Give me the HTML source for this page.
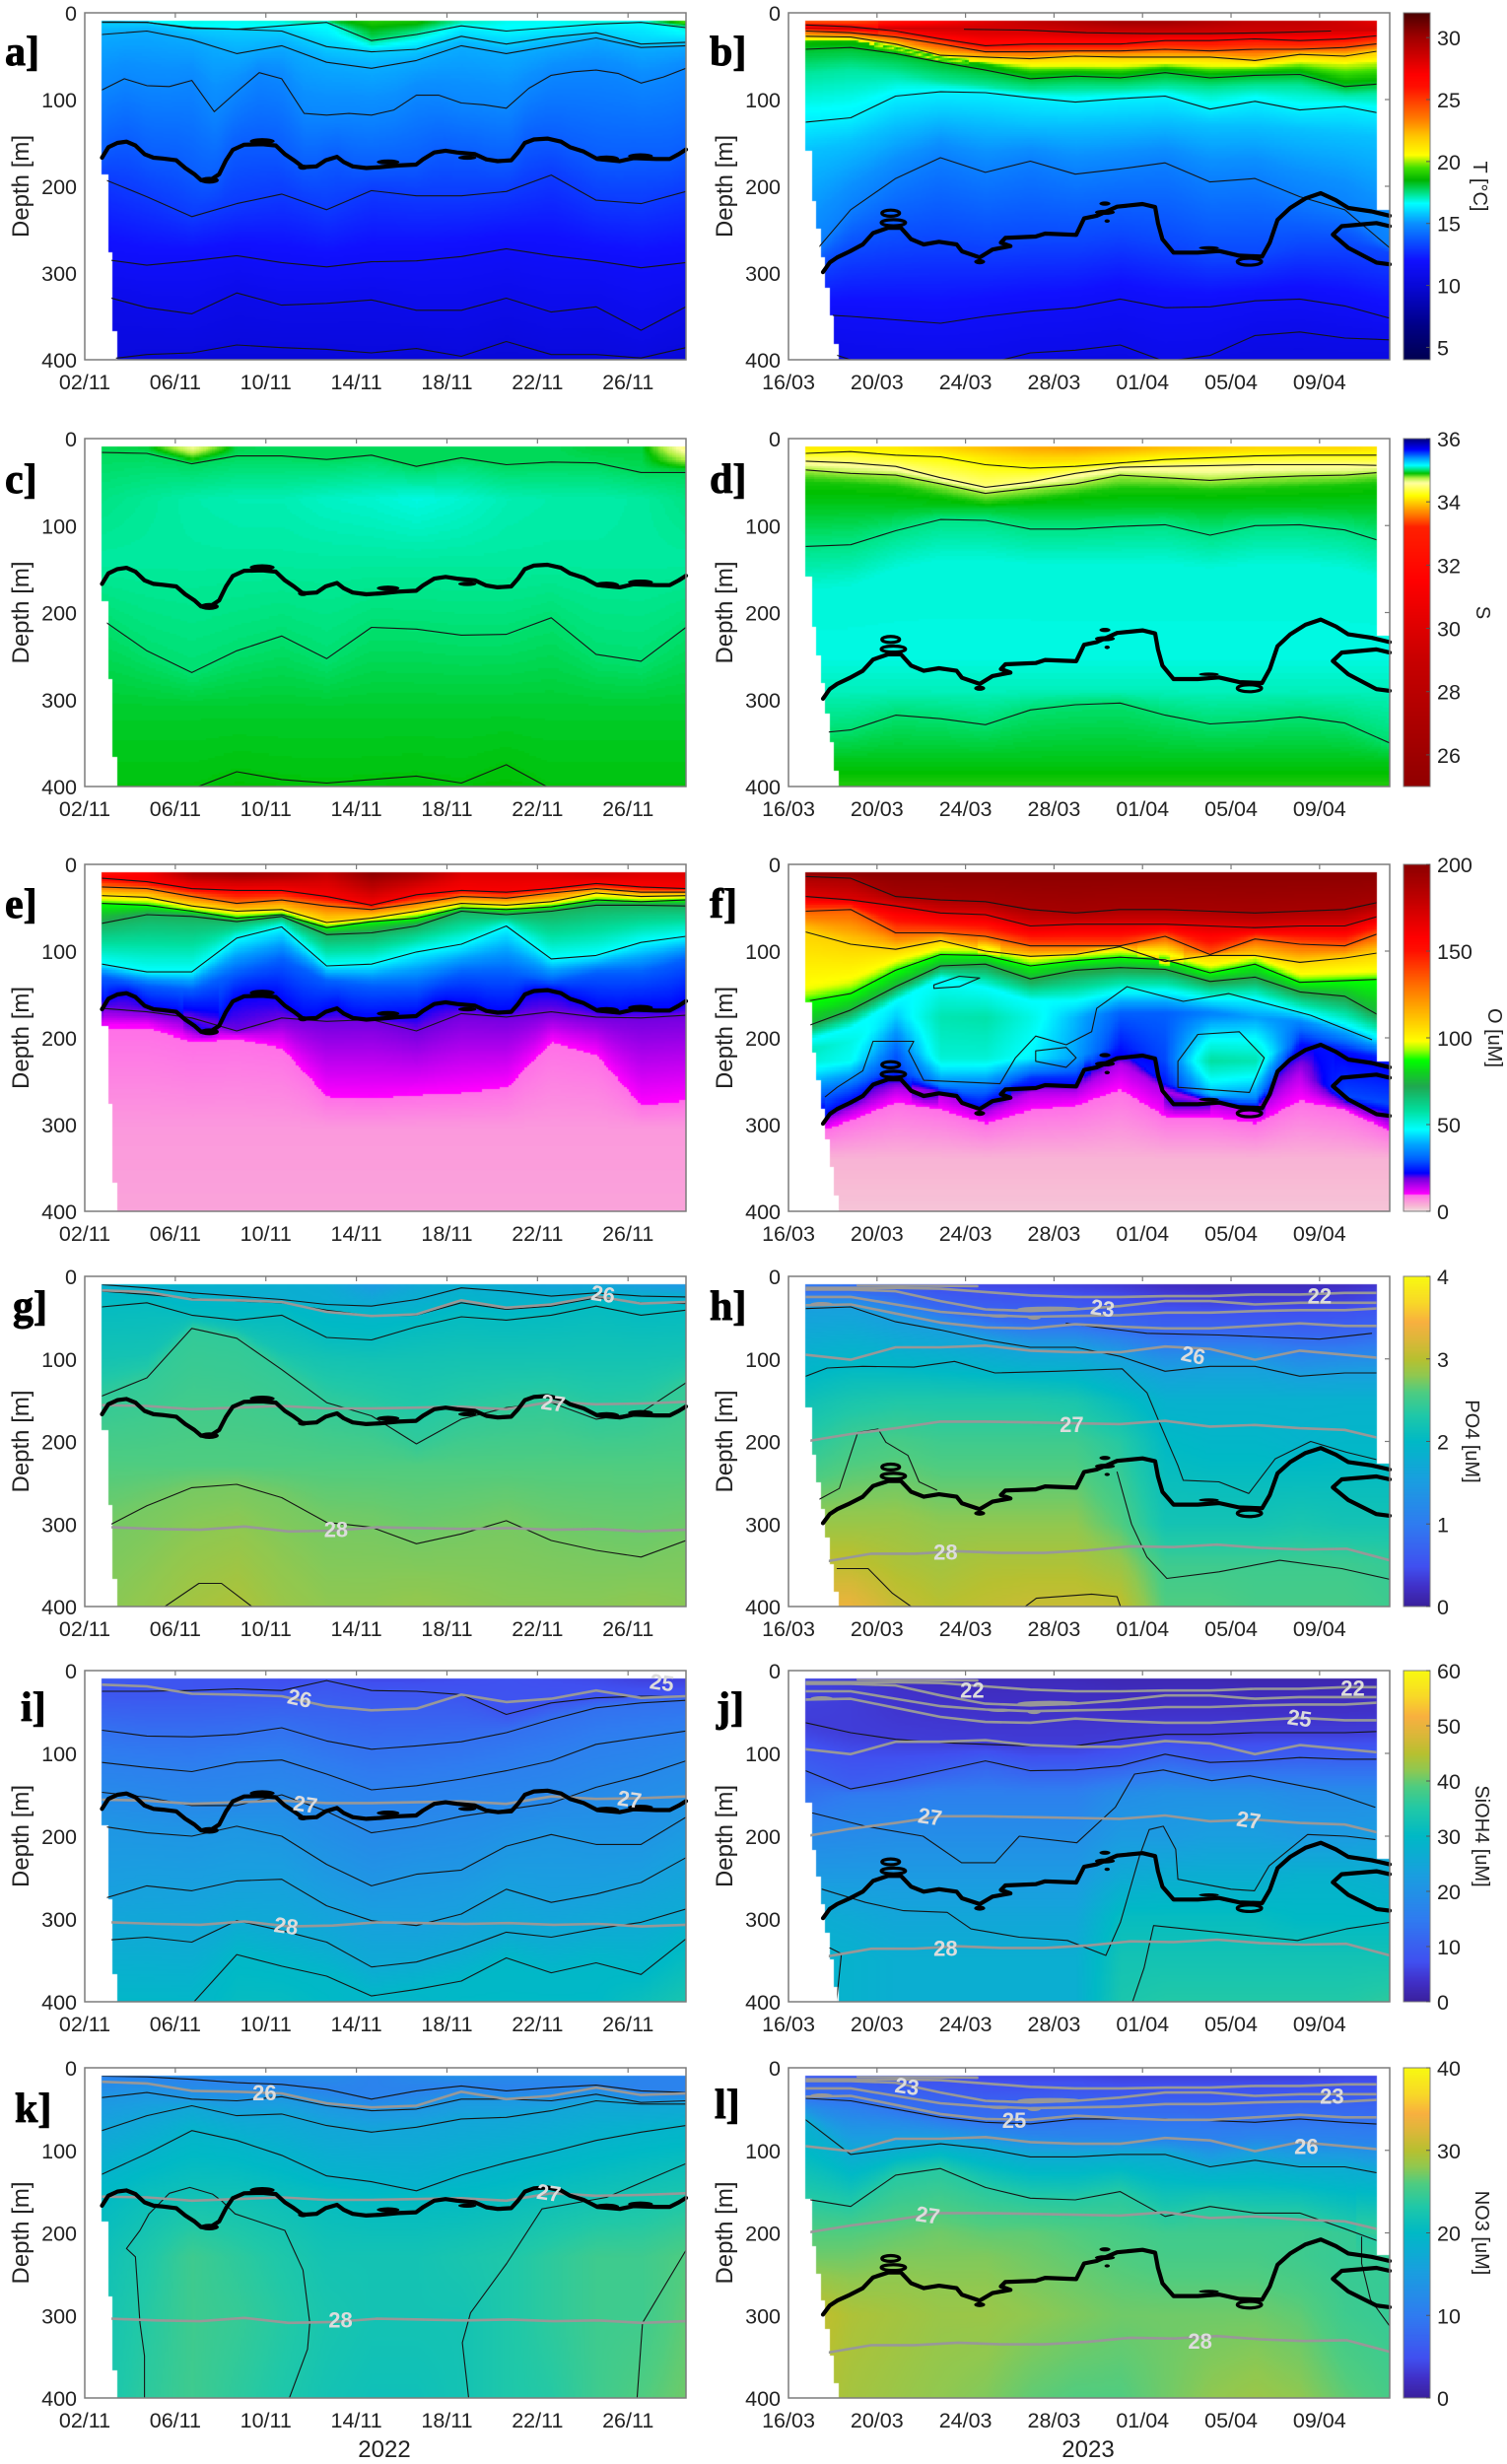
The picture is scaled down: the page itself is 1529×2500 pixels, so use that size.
<!DOCTYPE html>
<html lang="en">
<head>
<meta charset="utf-8">
<title>Ocean depth-time sections</title>
<style>
html,body{margin:0;padding:0;background:#fff}
#figure{position:relative;width:1529px;height:2500px;overflow:hidden;background:#fff}
#figure canvas{position:absolute;z-index:0}
#overlay{position:absolute;left:0;top:0;z-index:1}
text{font-family:"Liberation Sans",sans-serif;fill:#222}
</style>
</head>
<body>
<div id="figure">
<svg id="overlay" width="1529" height="2500"></svg>
</div>
<script>
/* ---------- axis data ---------- */
const depthTicks=[0,100,200,300,400];
const dayTicks=[0,4,8,12,16,20,24];
const dateLabelsL=['02/11','06/11','10/11','14/11','18/11','22/11','26/11'];
const dateLabelsR=['16/03','20/03','24/03','28/03','01/04','05/04','09/04'];
const tempTicks=[5,10,15,20,25,30];
const salTicks=[26,28,30,32,34,36];
const oxyTicks=[0,50,100,150,200];
const po4Ticks=[0,1,2,3,4];
const sioTicks=[0,10,20,30,40,50,60];
const no3Ticks=[0,10,20,30,40];

/* ---------- thick isopycnal (day, depth) ---------- */
const thickDaysL=[.76,1.04,1.44,1.84,2.24,2.64,3.04,3.44,4.04,4.44,4.84,5.14,5.54,5.94,6.24,6.54,7.04,7.84,8.44,8.84,9.24,9.64,10.24,10.64,11.14,11.44,11.84,12.44,13.04,13.84,14.64,14.94,15.44,15.94,16.44,17.24,17.74,18.24,18.84,19.14,19.44,19.84,20.44,21.04,21.44,22.04,22.64,23.64,24.24,25.24,25.84,26.24,26.56];
const thickDepthL=[167,155,150,148.5,153,163,167,168,170,179,186,193,193,186,170,158,152,151.5,153,163,170,178,177,170,166,172,177,179,178,176,175,169,161,159,161,163,169,171,170,161,150,146,145,148.5,155,160,168.5,171,167.5,168.5,168.5,163,157.6];
const thickDaysR=[1.56,1.86,2.2,2.78,3.36,3.82,4.5,5.08,5.54,6.11,6.8,7.6,7.84,8.64,9.22,10.03,9.6,9.8,11.17,11.6,13,13.36,13.93,14.85,16,16.57,16.7,16.9,17.4,18.5,19.45,20.37,21.4,21.75,22.1,22.67,23.36,24.05,24.74,25.3,26.35,27.17];
const thickDepthR=[299,288,282,275,267,254,248,248,261,267,264,267,275,282,273,269,265,259.5,258,254.5,256,237,234,223.5,220.5,224,242.5,261,276.5,276.5,274.6,280,281,265,238.6,225,214,208,216,225,229,234];
const thickLoopDaysR=[27.17,26.57,25,24.6,25.3,26.57,27.17];
const thickLoopDepthR=[246,242.4,246,255.7,271,288,290];
const thickBlobsL=[[7.84,148,.55,3.5],[5.5,193,.42,4],[13.4,172,.5,3],[16.9,167,.4,2.5],[23.05,168,.55,3.5],[24.55,165,.55,3],[9.64,178,.22,3]];
const thickBlobsR=[[8.64,287,.25,3],[14.3,220,.25,2.5],[14.3,230,.45,3],[14.4,240,.12,2],[19,271,.45,2]];
const thickRingsR=[[4.62,231,.4,3.5],[4.74,242,.55,3.5],[20.83,287,.55,4]];

/* ---------- grey density contours ---------- */
const grayL26=[17,19,28,29,31,43,48,46,29,38,34,24,33,31];
const grayL27=[156,157,161,159,157,160,160,159,158,161,152,155,154,152];
const grayL28=[304,306,307,303,309,308,304,305,306,305,307,306,309,307];
const grayR22=[14,14,14,15,19,23,25,25,24,24,22,22,20,20];
const grayR23=[16,16,18,30,40,42,40,36,30,30,34,32,32,32];
const grayR24=[25,25,34,43,47,49,48,47,44,44,42,41,41,38];
const grayR25=[35,34,45,56,62,63,58,61,63,63,60,57,60,60];
const grayR26=[95,101,86,86,84,90,92,92,85,88,101,90,95,100];
const grayR27=[200,191,184,176,176,177,178,179,175,182,180,184,186,199];
const grayR28=[345,336,336,333,335,335,332,327,328,325,329,331,330,344];
const grayBlobsR=[[11.8,39.5,1.45,3],[9.56,48,.55,2],[11.1,50,.3,2.5],[1.5,33.5,.5,2.5]];

/* ---------- panel a: temperature ---------- */
const aSurface=[16.6,16.6,16.8,16.7,16.9,18.2,19,18.8,17.2,16.7,16.7,17,17.2,20];
const aLine1Value=[16.4,16.4,16.5,16.5,16.5,16.8,17.6,17.2,16.6,16.5,16.5,16.5,16.5,17];
const aLine1=[10,11,17,19,15,11,32,25,15,21,17,13,11,17];
const aLine2=[11,11,18,19,21,39,45,42,27,36,28,23,36,34];
const aLine3=[25,21,31,47,38,57,64,55,38,47,38,29,40,38];
const aLine4=[89,76,84,85,78,114,91,69,76,116,118,116,118,112,95,95,104,106,110,87,72,68,66,70,81,74,64];
const aLine5=[191,212,235,220,209,227,205,211,211,206,187,216,220,206];
const aLine6=[284,291,286,280,288,293,287,286,281,272,280,286,294,288];
const aLine7=[326,340,347,323,337,335,331,343,343,329,345,339,366,339];
const aLine8=[400,394,392,383,386,388,392,387,396,379,394,394,398,386];
/* ---------- panel b: temperature ---------- */
const bSurface=[24,24.5,26,27,28,29,29.5,30,30,29.5,29,29,28.5,27.5];
const bLine1=[19,20,23,24,24,23,21];
const bLine2=[14,16,21,30,38,36,36,36,32,32,30,32,30,25];
const bLine3=[21,23,28,36,45,45,44,44,42,44,42,42,40,34];
const bLine4=[27,28,36,49,51,53,50,51,51,51,55,48,50,42];
const bYellow=[32,32,42,55,58,62,62,62,60,62,62,58,60,56];
const bGreen=[34,33,41,52,60,70,68,70,64,70,68,66,78,74];
const bLine5=[42,40,47,57,66,76,73,75,69,75,72,71,85,81];
const bTeal=[70,65,70,80,85,90,88,88,85,88,85,85,95,92];
const bLine6=[126,121,96,91,92,98,103,99,96,111,102,112,108,118];
const bBlue=[160,150,130,120,125,130,130,128,125,130,130,135,140,145];
const bLine7=[288,227,191,167,184,171,186,180,173,195,191,212,227,271];
const bDeep=[300,275,265,260,265,262,262,255,265,280,280,268,268,276];
const bLine8=[347,350,354,358,350,344,340,330,340,339,332,330,338,352];
const bLine9=[383,400,405,405,405,392,389,383,402,395,372,368,375,377];
/* ---------- panel c: salinity ---------- */
const cSurface=[34.97,34.95,34.6,34.97,34.98,34.98,34.98,34.98,34.98,34.98,34.98,34.95,34.95,34.5];
const cLine1=[16,17,29,20,20,24,19,32,22,30,27,28,39,39];
const cMid=[35.02,35.04,35.06,35.07,35.07,35.09,35.1,35.12,35.1,35.07,35.06,35.06,35.05,35.02];
const cLine2=[208,244,269,244,227,253,217,219,226,225,206,248,256,217];
const cLine3=[403,403,403,383,392,396,392,388,396,375,403,403,403,403];
/* ---------- panel d: salinity ---------- */
const dSurface=[34.1,34.1,34.1,34,33.9,33.8,33.75,33.8,33.9,33.95,34,34,34,34.1];
const dLine1=[17,15,19,21,30,34,32,28,24,22,20,19,19,19];
const dLine2=[26,28,32,45,56,50,40,33,32,31,30,30,30,31];
const dLine3=[36,40,42,52,63,57,52,42,45,48,45,43,42,38];
const dGreen=[50,52,56,66,75,70,64,58,58,60,58,56,54,50];
const dLine4=[124,122,106,93,94,104,104,101,99,111,100,99,105,121];
const dCyan=[175,170,150,140,140,145,145,145,145,150,145,145,150,165];
const dLine5=[340,335,318,322,329,312,306,304,318,328,325,320,327,350];
/* ---------- panel e: oxygen ---------- */
const eSurface=[150,160,190,195,190,180,200,190,170,170,170,175,170,170];
const eLine1=[16,20,28,30,30,37,47,35,30,32,28,22,26,28];
const eLine2=[26,28,37,45,41,48,52,45,37,39,33,28,32,32];
const eLine3=[36,38,48,54,52,67,62,54,45,47,43,33,37,36];
const eLine4=[45,47,54,62,58,73,66,62,50,52,49,41,43,41];
const eLine5=[68,58,60,66,60,81,79,71,54,58,54,47,47,48];
const eLine6=[115,124,124,85,72,117,115,101,92,71,109,105,90,83];
const eBlue=[130,140,145,125,110,135,140,140,125,125,135,125,125,110];
const eLine7=[166,170,177,192,177,181,179,192,172,176,170,176,177,174];
const eBound=[187,187,204,200,211,268,270,266,263,257,204,219,278,272];
/* ---------- panel f: oxygen ---------- */
const fLine1=[14,16,37,41,43,52,56,52,52,54,56,54,52,41];
const fLine2=[37,41,48,56,58,71,69,69,69,71,73,71,71,56];
const fLine3=[54,52,79,79,83,94,94,94,83,104,86,92,94,75];
const fLine4=[78,92,98,88,100,106,104,95,112,105,105,113,108,100];
const fYellow=[145,135,112,98,98,110,105,100,104,118,108,128,126,124];
const fLine5=[158,149,122,104,105,117,111,107,110,125,115,136,134,132];
const fLine6=[187,168,141,117,115,132,122,119,121,135,130,147,152,181];
const fCyan=[204,189,158,132,143,158,158,147,147,155,155,170,185,204];
const fMidDepth=[215,205,177,177,177,177,177,172,172,172,177,182,192,212];
const fMidValue=[55,50,42,56,57,50,40,30,30,34,38,35,40,42];
const fLowDepth=[227,227,215,223,223,223,223,208,227,227,227,204,213,219];
const fLowValue=[52,48,30,52,52,46,38,24,28,58,56,25,26,30];
const fDeepDepth=[272,257,238,255,263,247,246,213,253,266,270,208,217,225];
const fDeepValue=[30,30,26,35,30,26,26,23,24,40,35,23,23,25];
const fPurpleDepth=[305,284,259,265,287,262,262,230,262,276,285,240,268,276];
const fPurpleValue=[15,15,15,15,15,15,15,15,15,15,15,15,28,28];
const fBound=[314,295,274,283,299,283,278,259,291,291,299,272,283,308];
const fExtra1=[[1.66,268],[2.2,257],[3.36,238],[3.82,204],[5.66,204],[5.43,215],[6.11,249],[9.56,253],[10.26,223],[11.17,198],[12.55,208],[13.7,193],[13.93,166],[15.3,141],[17.84,158],[19.9,149],[23.6,174],[26.35,202]];
const fExtra2=[[17.6,227],[18.5,196],[20.37,193],[21.5,223],[20.83,263],[17.6,257],[17.6,227]];
const fExtra3=[[6.57,139],[7.72,129],[8.64,131],[7.72,141],[6.57,143],[6.57,139]];
const fExtra4=[[11.17,215],[12.55,211],[13,223],[12.55,234],[11.17,227],[11.17,215]];
/* ---------- panel g: phosphate ---------- */
const gSurface=[2,1.95,1.9,1.85,1.8,1.75,1.45,1.7,1.8,1.75,1.6,1.65,1.5,1.4];
const gLine1=[10,14,20,24,28,34,36,28,14,18,24,20,24,25];
const gLine2=[18,22,27,30,32,41,48,47,32,40,36,26,32,33];
const gLine3=[37,32,47,53,47,74,77,61,49,53,47,36,47,41];
const gMid=[100,95,55,65,90,100,105,105,100,100,100,100,100,95];
const gLine4=[145,123,63,75,113,153,169,203,173,159,153,173,165,129];
const gLine5=[306,278,256,252,268,298,304,324,312,296,320,332,340,320];
const gBottom=[2.77,2.82,2.9,2.95,2.85,2.8,2.8,2.82,2.8,2.78,2.78,2.78,2.8,2.78];
const gExtra1=[[3.54,400],[5.04,372],[6.04,372],[7.38,400]];
/* ---------- panel h: phosphate ---------- */
const hSurface=[1,.9,.6,.45,.4,.38,.35,.3,.2,.15,.15,.15,.2,.3];
const hBlue=[18,18,25,41,51,57,57,63,71,71,72,76,76,69];
const hLine1=[39,37,55,65,77,86,86,97,115,109,109,121,117,117];
const h150=[2.15,2.25,2.3,2.3,2.3,2.3,2.25,2.05,1.85,1.85,1.85,1.85,1.85,1.85];
const h200=[2.35,2.5,2.55,2.5,2.5,2.5,2.5,2.35,2,1.95,1.95,1.9,1.95,1.95];
const h300=[2.85,2.85,2.85,2.8,2.8,2.8,2.8,2.6,2.2,2.2,2.2,2.25,2.2,2.2];
const h350=[3.05,3.05,2.95,2.9,2.95,2.95,2.95,2.85,2.5,2.5,2.5,2.5,2.5,2.45];
const h400=[3.35,3.35,3.1,3,3.05,3.1,3.1,3.05,2.6,2.6,2.55,2.55,2.55,2.5];
const hExtra1=[[.78,121],[1.75,111],[3.36,109],[5.66,110],[7.5,103],[9.33,117],[12.1,115],[15.08,112],[16.2,141],[16.7,173],[17.6,229],[17.84,247],[19.45,249],[20.8,263],[22,221],[23.6,200],[25.2,213],[26.57,222]];
const hExtra2=[[1.4,270],[2.3,257],[3.13,189],[4.05,185],[4.4,201],[5.4,217],[5.9,249],[6.7,259]];
const hExtra3=[[14.85,237],[15.5,300],[16.2,340],[17.1,366],[19.45,358],[22.2,344],[25,354],[27.17,367]];
const hExtra4=[[2.2,354],[3.6,354],[4.7,384],[5.54,400]];
const hExtra5=[[10.7,400],[11.2,390],[13.7,385],[14.85,388],[15,400]];
const hExtra6=[[12.55,57],[16.2,69],[19.45,71],[24,76],[26.35,69]];
/* ---------- panel i: silicate ---------- */
const iSurface=[9,8.5,8,7.5,7,7,6.5,6.5,7,7.5,7,6.5,5.5,5.5];
const iLine1=[25,25,24,22,24,12,24,25,29,53,39,33,31,31];
const iLine2=[72,79,80,77,69,85,95,91,86,75,59,45,39,36];
const iLine3=[111,117,122,111,108,125,144,139,131,121,109,89,81,73];
const iLine4=[147,153,163,163,150,170,196,188,176,168,160,141,127,109];
const iLine5=[188,196,200,188,200,234,260,246,241,212,198,210,210,177];
const iLine6=[276,260,266,254,252,284,302,308,294,264,280,270,256,226];
const iLine7=[326,322,328,302,314,328,358,352,336,316,322,312,304,288];
const iLine8=[403,403,403,343,357,369,393,385,375,347,365,353,367,324];
const iBottom=[26.8,27.5,29,31,31,30,29,29,30,30,30,30,32,34];
/* ---------- panel j: silicate ---------- */
const jSurface=[6,5,3.5,3,2.5,2.5,2.5,2,2,2,1.5,1.5,1.5,2];
const jLine1=[63,75,83,87,89,91,91,83,77,77,75,75,75,73];
const jLine2=[121,143,133,121,109,121,120,115,101,111,109,105,107,107];
const j150=[13,15,15,16,16,16,16,19,20,20,20,19,19,19];
const j200=[18,18.5,19,19,19,19,19,22,22,23,23,22,22,23];
const j250=[22,22,22,22,22,22,22,26,27,27,27,28,28,27];
const j300=[27,26,25,25,25,25,25,31,31,31,31,30,30,30];
const j350=[28,28,27,27,27,27,27,33,33,33,33,33,33,33];
const j400=[29,28,27,27,27,27,27,34,35,35,35,35,35,36];
const jExtra1=[[1.09,172],[3.48,188],[6.08,200],[7.82,232],[9.34,232],[10.43,200],[13.03,208],[14.77,165],[15.64,125],[16.94,120],[19.12,133],[20.85,127],[24.3,145],[26.5,165]];
const jExtra2=[[1.52,264],[3.48,280],[5.2,290],[7.17,292],[8.25,312],[10.43,322],[12.6,326],[14.34,344],[15,304],[15.86,224],[16.3,192],[16.94,188],[17.5,216],[17.6,252],[20,264],[21.06,266],[21.72,236],[23.46,198],[25.2,200],[26.5,204]];
const jExtra3=[[15.55,400],[16.07,359],[16.5,308],[20.85,320],[23,326],[25.2,312],[27.17,304]];
const jExtra4=[[2.17,400],[2.39,342],[1.87,335]];
/* ---------- panel k: nitrate ---------- */
const kSurface=[14,14,13,13,12.5,12.5,11,12,13,12,12,13,11,11];
const kLine1=[10,11,14,18,20,26,38,28,22,28,24,21,28,30];
const kLine2=[36,30,38,40,35,46,52,50,38,38,40,32,42,40];
const kLine3=[76,58,46,58,56,70,78,72,62,60,52,40,44,44];
const kLine4=[129,104,76,88,106,131,138,149,130,115,102,88,78,70];
const k150=[20,21,21.5,21.5,21,20.5,20,20,20,20.5,21,21.5,22,22.5];
const k230=[21.5,23,25,24,23,22,22,22,22.5,23,24,25,25,26];
const k300=[22,23.5,25,24.5,23.5,22.5,22,22,22,23,24,25,25,26.5];
const k400=[22.5,24,25,24,23,22,21.5,21.5,22,23,23.5,25,26,27];
const kExtra1=[[2.64,400],[2.64,349],[2.44,309],[2.34,269],[2.24,229],[1.84,219],[2.44,197],[2.84,177],[3.74,152],[4.64,145],[5.64,153],[6.04,161],[6.64,177],[8.84,197],[9.64,245],[9.94,309],[9.84,341],[9.04,400]];
const kExtra2=[[16.96,400],[16.68,333],[17.04,297],[18.64,237],[20.2,171],[23.04,157],[26.56,116]];
const kExtra3=[[24.4,400],[24.64,309],[26.56,221]];
/* ---------- panel l: nitrate ---------- */
const lSurface=[6,5.5,5,4.5,4,4,4,3.5,3.5,3.5,3.5,3.5,4,4];
const lLine1=[37,40,50,60,66,68,62,62,62,64,66,62,66,69];
const lLine2=[45,55,62,70,77,82,85,86,88,92,85,88,90,94];
const lLine3=[63,105,98,92,98,108,108,105,105,120,112,120,120,130];
const lLine4=[159,168,130,122,145,158,160,150,180,168,176,176,195,215];
const l200=[26,26,26.5,27,26.5,26.5,26,25.5,25,25,25,25,24.5,24.5];
const l230=[27,27,27.5,27.5,27.5,27,26.5,26,25.5,25.5,25.5,25,24.5,24.5];
const l300=[31,29.5,29,28.5,28.5,28,27.5,27,27,27,27,26.5,25,24.5];
const l400=[30,29,28.5,28,27.5,26.5,26,26,27,28,28.5,28,26.5,25.5];
const lExtra1=[[25.9,205],[25.9,237],[26.3,281],[27.17,313]];

/* ---------- colour scales ---------- */
const tempStops=[[4,'#000050'],[7,'#00008c'],[10,'#0808d8'],[12,'#1010ff'],[13.5,'#0a50ff'],[15,'#0a90ff'],[16.6,'#00ffff'],[17.5,'#00e080'],[18.5,'#00b400'],[19.5,'#40e000'],[20.5,'#ffff00'],[22,'#ffc800'],[23.5,'#ff7800'],[26,'#ff1000'],[27,'#ff0000'],[30,'#a00000'],[32,'#4a0000']];
const salStops=[[25,'#900000'],[29,'#c80000'],[31.5,'#ff0000'],[33.2,'#ff2000'],[33.7,'#ff9000'],[34.2,'#ffff00'],[34.6,'#ffffa0'],[34.75,'#b0f040'],[34.9,'#00c000'],[35,'#00e070'],[35.15,'#00ffff'],[35.4,'#0090ff'],[35.65,'#0000ff'],[36,'#00007a']];
const oxyStops=[[0,'#f0dfe0'],[3,'#f8b8d4'],[9.9,'#ff70e8'],[10,'#ff00ff'],[14,'#c000f0'],[19,'#7000e0'],[22,'#0000ff'],[30,'#0060ff'],[38,'#00a0ff'],[47,'#00ffff'],[58,'#00e0a0'],[72,'#20a850'],[80,'#10d020'],[87,'#00ff00'],[93,'#a0ff00'],[98,'#ffff00'],[112,'#ffc000'],[130,'#ff7000'],[150,'#ff1000'],[158,'#ff0000'],[180,'#c00000'],[200,'#8c0000']];
const parulaStops=[[0,'#3a209c'],[.06,'#4030c8'],[.12,'#4050f0'],[.25,'#2f7cf0'],[.38,'#1a9ee0'],[.5,'#00b9c6'],[.58,'#20c8a8'],[.65,'#4fcc80'],[.7,'#90c850'],[.75,'#b8c030'],[.8,'#d8b838'],[.86,'#f8b040'],[.92,'#f8d828'],[1,'#f8fa10']];

/* ---------- layout ---------- */
const NS='http://www.w3.org/2000/svg';
const SIDE={
 L:{x0:86,x1:696,dayMax:26.56,start:.76,end:26.56,edgeDepth:[184,275,364,401],edgeDay:[.76,.98,1.18,1.38],labels:dateLabelsL,thickDays:thickDaysL,thickDepth:thickDepthL},
 R:{x0:800,x1:1410,dayMax:27.17,start:.78,end:27.17,edgeDepth:[157,214,247,280,314,347,380,401],edgeDay:[.78,.99,1.2,1.4,1.61,1.82,2,2.2],labels:dateLabelsR,thickDays:thickDaysR,thickDepth:thickDepthR}
};
const COLORBARS=[
 {id:'temperature',row:0,min:4,max:32,stops:tempStops,norm:1,ticks:tempTicks,title:'T [°C]',tx:1495},
 {id:'salinity',row:1,min:25,max:36,stops:salStops,norm:1,ticks:salTicks,title:'S',tx:1498},
 {id:'oxygen',row:2,min:0,max:200,stops:oxyStops,norm:1,ticks:oxyTicks,title:'O [uM]',tx:1510},
 {id:'phosphate',row:3,min:0,max:4,stops:parulaStops,norm:4,ticks:po4Ticks,title:'PO4 [uM]',tx:1487},
 {id:'silicate',row:4,min:0,max:60,stops:parulaStops,norm:60,ticks:sioTicks,title:'SiOH4 [uM]',tx:1497},
 {id:'nitrate',row:5,min:0,max:40,stops:parulaStops,norm:40,ticks:no3Ticks,title:'NO3 [uM]',tx:1497}
];
const ROWS=[[13,365],[445,798],[877,1229],[1295,1630],[1695,2031],[2098,2433]];

const PANELS=[
{id:'a',side:'L',row:0,bar:0,lx:5,ly:66,levels:[[aSurface,10,0],[aLine1Value,aLine1,1],[15.9,aLine2,1],[15.4,aLine3,1],[14.8,aLine4,1],[13.8,'thick',0],[13,aLine5,1],[11.7,aLine6,1],[10.9,aLine7,1],[10.3,aLine8,1],[10,402,0]],extras:[],labels:[]},
{id:'b',side:'R',row:0,bar:0,lx:720,ly:66,levels:[[bSurface,10,0],[28.5,bLine1,1,7.95,24.5],[26.5,bLine2,1],[24.5,bLine3,1],[22,bLine4,1],[20.3,bYellow,0],[18.7,bGreen,0],[18.2,bLine5,1],[17.3,bTeal,0],[16.4,bLine6,1],[15.7,bBlue,0],[14.6,bLine7,1],[13.3,bDeep,0],[11.6,bLine8,1],[10.9,bLine9,1],[10.4,406,0]],extras:[],labels:[]},
{id:'c',side:'L',row:1,bar:1,lx:5,ly:500,levels:[[cSurface,10,0],[34.98,cLine1,1],[cMid,70,0],[35.05,140,0],[35,cLine2,1],[34.94,310,0],[34.91,cLine3,1],[34.9,404,0]],extras:[],labels:[]},
{id:'d',side:'R',row:1,bar:1,lx:720,ly:500,levels:[[dSurface,10,0],[34.2,dLine1,1],[34.5,dLine2,1],[34.75,dLine3,1],[34.88,dGreen,0],[34.93,80,0],[35.02,dLine4,1],[35.11,dCyan,0],[35.12,250,0],[35.08,290,0],[35,dLine5,1],[34.92,372,0],[34.87,402,0]],extras:[],labels:[]},
{id:'e',side:'L',row:2,bar:2,lx:5,ly:931,levels:[[eSurface,10,0],[160,eLine1,1],[130,eLine2,1],[105,eLine3,1],[88,eLine4,1],[70,eLine5,1],[47,eLine6,1],[30,eBlue,0],[22,'thick',0],[19,eLine7,1],[10,eBound,0],[6,305,0],[5,402,0]],extras:[],labels:[]},
{id:'f',side:'R',row:2,bar:2,lx:720,ly:931,levels:[[200,10,0],[190,fLine1,1],[170,fLine2,1],[135,fLine3,1],[108,fLine4,1],[97,fYellow,0],[88,fLine5,1],[75,fLine6,1],[47,fCyan,0],[fMidValue,fMidDepth,0],[fLowValue,fLowDepth,0],[fDeepValue,fDeepDepth,0],[22,'thick',0],[fPurpleValue,fPurpleDepth,0],[10,fBound,0],[3.5,340,0],[2,402,0]],extras:[fExtra1,fExtra2,fExtra3,fExtra4],labels:[]},
{id:'g',side:'L',row:3,bar:3,lx:13,ly:1339,levels:[[gSurface,10,0],[1.8,gLine1,1],[1.95,gLine2,1],[2.05,gLine3,1],[2.2,gMid,0],[2.42,gLine4,1],[2.6,230,0],[2.72,gLine5,1],[gBottom,402,0]],extras:[gExtra1],labels:[['26',22.9,21,8],['27',20.7,153,8],['28',11.1,306,0]]},
{id:'h',side:'R',row:3,bar:3,lx:720,ly:1339,levels:[[hSurface,10,0],[.8,hBlue,0],[1.55,hLine1,1],[h150,150,0],[h200,200,0],[h300,300,0],[h350,350,0],[h400,402,0]],extras:[hExtra1,hExtra2,hExtra3,hExtra4,hExtra5,hExtra6],labels:[['22',24,23,0],['23',14.2,38,8],['26',18.3,95,12],['27',12.8,179,0],['28',7.1,334,0]]},
{id:'i',side:'L',row:4,bar:4,lx:21,ly:1746,levels:[[iSurface,10,0],[8,iLine1,1],[13,iLine2,1],[16,iLine3,1],[18,iLine4,1],[21,iLine5,1],[23.5,iLine6,1],[26,iLine7,1],[29.5,iLine8,1],[iBottom,405,0]],extras:[],labels:[['26',9.5,33,12],['25',25.5,14,8],['27',9.75,161,8],['27',24.07,155,8],['28',8.9,308,8]]},
{id:'j',side:'R',row:4,bar:4,lx:727,ly:1746,levels:[[jSurface,10,0],[5,jLine1,1],[10,jLine2,1],[j150,150,0],[j200,200,0],[j250,250,0],[j300,300,0],[j350,350,0],[j400,402,0]],extras:[jExtra1,jExtra2,jExtra3,jExtra4],labels:[['22',8.3,23,0],['22',25.5,21,0],['25',23.1,57,8],['27',6.4,176,8],['27',20.8,180,8],['28',7.1,335,0]]},
{id:'k',side:'L',row:5,bar:5,lx:15,ly:2153,levels:[[kSurface,10,0],[11,kLine1,1],[14,kLine2,1],[16.5,kLine3,1],[19,kLine4,1],[k150,150,0],[k230,230,0],[k300,300,0],[k400,402,0]],extras:[kExtra1,kExtra2,kExtra3],labels:[['26',7.94,30,0],['27',20.5,151,8],['28',11.3,305,0]]},
{id:'l',side:'R',row:5,bar:5,lx:725,ly:2149,levels:[[lSurface,10,0],[9,lLine1,1],[11.5,lLine2,0],[17.5,lLine3,1],[23.5,lLine4,1],[l200,200,0],[l230,230,0],[l300,300,0],[l400,402,0]],extras:[lExtra1],labels:[['23',5.36,22,8],['23',24.56,34,0],['25',10.2,63,0],['26',23.4,95,0],['27',6.3,178,8],['28',18.6,331,0]]}
];

/* ---------- helpers ---------- */
const svg=document.getElementById('overlay');
const fig=document.getElementById('figure');
function make(tag,parent){const e=document.createElementNS(NS,tag);parent.appendChild(e);return e;}
function dayToX(s,d){return s.x0+d/s.dayMax*(s.x1-s.x0);}
function depthToY(r,d){return r[0]+d/400*(r[1]-r[0]);}
function hex(c){return [parseInt(c.substr(1,2),16),parseInt(c.substr(3,2),16),parseInt(c.substr(5,2),16)];}
function colorOf(stops,t){
  if(t<=stops[0][0])return stops[0][1];
  for(let i=1;i<stops.length;i++){
    if(t<=stops[i][0]){
      const a=stops[i-1],b=stops[i],f=(t-a[0])/(b[0]-a[0]),ca=hex(a[1]),cb=hex(b[1]);
      return 'rgb('+Math.round(ca[0]+(cb[0]-ca[0])*f)+','+Math.round(ca[1]+(cb[1]-ca[1])*f)+','+Math.round(ca[2]+(cb[2]-ca[2])*f)+')';
    }
  }
  return stops[stops.length-1][1];
}
function arrayAt(arr,day,t0,t1){
  if(typeof arr==='number')return arr;
  if(arr.length===1)return arr[0];
  let f=(day-t0)/(t1-t0);
  f=Math.max(0,Math.min(1,f))*(arr.length-1);
  const i=Math.min(arr.length-2,Math.floor(f));
  return arr[i]+(arr[i+1]-arr[i])*(f-i);
}
function thickAt(s,day){
  const D=s.thickDays,V=s.thickDepth;
  if(day<=D[0])return V[0];
  for(let i=1;i<D.length;i++){
    if(D[i]>D[i-1]&&day<=D[i]&&day>=D[i-1])return V[i-1]+(V[i]-V[i-1])*(day-D[i-1])/(D[i]-D[i-1]);
  }
  return V[V.length-1];
}
function column(p,s,day){
  const col=[];
  for(const lv of p.levels){
    const t0=lv[3]===undefined?s.start:lv[3],t1=lv[4]===undefined?s.end:lv[4];
    const depth=lv[1]==='thick'?thickAt(s,day):arrayAt(lv[1],day,t0,t1);
    const val=arrayAt(lv[0],day,s.start,s.end);
    col.push([depth,val]);
  }
  col.sort((a,b)=>a[0]-b[0]);
  return col;
}
function fieldAt(col,depth){
  if(depth<=col[0][0])return col[0][1];
  for(let i=1;i<col.length;i++){
    if(depth<=col[i][0]){
      const g=col[i][0]-col[i-1][0];
      return g<=0?col[i][1]:col[i-1][1]+(col[i][1]-col[i-1][1])*(depth-col[i-1][0])/g;
    }
  }
  return col[col.length-1][1];
}
function maskStart(s,depth){
  for(let i=0;i<s.edgeDepth.length;i++){if(depth<s.edgeDepth[i])return s.edgeDay[i];}
  return s.edgeDay[s.edgeDay.length-1];
}
function maskEnd(side,depth){return side==='R'&&depth<227?26.57:SIDE[side].dayMax;}
function addText(parent,str,x,y,size,anchor){
  const t=make('text',parent);
  t.setAttribute('x',x);
  t.setAttribute('y',y);
  t.setAttribute('font-size',size);
  t.setAttribute('text-anchor',anchor);
  t.textContent=str;
  return t;
}
function pathFrom(parent,pts,s,r){
  const e=make('polyline',parent);
  e.setAttribute('points',pts.map(q=>dayToX(s,q[0]).toFixed(1)+','+depthToY(r,q[1]).toFixed(1)).join(' '));
  e.setAttribute('fill','none');
  e.setAttribute('stroke-linejoin','round');
  e.setAttribute('stroke-linecap','round');
  return e;
}
function evenPts(arr,t0,t1){
  return arr.map((d,i)=>[t0+(t1-t0)*i/(arr.length-1),d]);
}

/* ---------- build ---------- */
const lutCache={};
function lut(bar){
  if(lutCache[bar.id])return lutCache[bar.id];
  const n=1400,a=[];
  for(let i=0;i<=n;i++){
    const v=bar.min+(bar.max-bar.min)*i/n;
    a.push(colorOf(bar.stops,v/bar.norm));
  }
  lutCache[bar.id]=a;
  return a;
}

PANELS.forEach(p=>{
  const s=SIDE[p.side],r=ROWS[p.row],bar=COLORBARS[p.bar],table=lut(bar);
  /* heatmap */
  const cv=document.createElement('canvas');
  
  
  cv.width=s.x1-s.x0;
  cv.height=r[1]-r[0];
  cv.style.left=s.x0+'px';
  cv.style.top=r[0]+'px';
  fig.appendChild(cv);
  const ctx=cv.getContext('2d');
  const dayStep=.1,depthStep=2.5;
  const wCell=Math.ceil(dayStep/s.dayMax*(s.x1-s.x0))+1,hCell=Math.ceil(depthStep/400*(r[1]-r[0]))+1;
  for(let day=s.start;day<s.dayMax+dayStep;day+=dayStep){
    const col=column(p,s,day);
    for(let depth=10;depth<400;depth+=depthStep){
      if(day<maskStart(s,depth+depthStep/2)||day>maskEnd(p.side,depth+depthStep/2))continue;
      const v=fieldAt(col,depth+depthStep/2);
      const idx=Math.max(0,Math.min(1400,Math.round((v-bar.min)/(bar.max-bar.min)*1400)));
      ctx.fillStyle=table[idx];
      const px=dayToX(s,day)-s.x0,py=depthToY(r,depth)-r[0];
      const ww=Math.min(wCell,dayToX(s,maskEnd(p.side,depth+depthStep/2))-s.x0-px);
      if(ww>0)ctx.fillRect(Math.floor(px),Math.floor(py),Math.ceil(ww),hCell);
    }
  }
  /* clip */
  const clip=make('clipPath',svg);
  clip.setAttribute('id','clip-'+p.id);
  const poly=make('polygon',clip);
  const pts=[];
  let prevD=10;
  s.edgeDepth.forEach((d,i)=>{
    const dd=Math.min(d,400);
    pts.push(dayToX(s,s.edgeDay[i])+','+depthToY(r,prevD));
    pts.push(dayToX(s,s.edgeDay[i])+','+depthToY(r,dd));
    prevD=dd;
  });
  pts.push(dayToX(s,s.dayMax)+','+depthToY(r,400));
  if(p.side==='R'){
    pts.push(dayToX(s,s.dayMax)+','+depthToY(r,227));
    pts.push(dayToX(s,26.57)+','+depthToY(r,227));
    pts.push(dayToX(s,26.57)+','+depthToY(r,10));
  }else{
    pts.push(dayToX(s,s.dayMax)+','+depthToY(r,10));
  }
  poly.setAttribute('points',pts.join(' '));

  const g=make('g',svg);
  
  
  const clipped=make('g',g);
  clipped.setAttribute('clip-path','url(#clip-'+p.id+')');
  
  

  /* thin contours */
  p.levels.forEach(lv=>{
    if(!lv[2])return;
    const t0=lv[3]===undefined?s.start:lv[3],t1=lv[4]===undefined?s.end:lv[4];
    const e=pathFrom(clipped,evenPts(lv[1],t0,t1),s,r);
    
    
    e.setAttribute('stroke','#151515');
    e.setAttribute('stroke-width','1.1');
  });
  p.extras.forEach(pts2=>{
    const e=pathFrom(clipped,pts2,s,r);
    
    
    e.setAttribute('stroke','#151515');
    e.setAttribute('stroke-width','1.1');
  });

  /* grey density contours */
  if(p.row>=3){
    const sets=p.side==='L'?[grayL26,grayL27,grayL28]:[grayR22,grayR23,grayR24,grayR25,grayR26,grayR27,grayR28];
    sets.forEach(arr=>{
      let t0=s.start;
      if(arr===grayL28)t0=1.2;
      if(arr===grayR28)t0=1.8;
      const e=pathFrom(clipped,evenPts(arr,t0,s.end),s,r);
      
      
      e.setAttribute('stroke','#989898');
      e.setAttribute('stroke-width','2.6');
    });
    if(p.side==='R'){
      const top=pathFrom(clipped,[[3.13,10.5],[8.53,12]],s,r);
      
      
      top.setAttribute('stroke','#989898');
      top.setAttribute('stroke-width','2.6');
      grayBlobsR.forEach(b=>{
        const el=make('ellipse',clipped);
        
        
        el.setAttribute('cx',dayToX(s,b[0]));
        el.setAttribute('cy',depthToY(r,b[1]));
        el.setAttribute('rx',b[2]/s.dayMax*610);
        el.setAttribute('ry',b[3]/400*(r[1]-r[0]));
        el.setAttribute('fill','#989898');
      });
    }
  }

  /* thick isopycnal */
  const thick=pathFrom(g,s.thickDays.map((d,i)=>[d,s.thickDepth[i]]),s,r);
  
  
  thick.setAttribute('stroke','#000');
  thick.setAttribute('stroke-width','4.2');
  if(p.side==='R'){
    const loop=pathFrom(g,thickLoopDaysR.map((d,i)=>[d,thickLoopDepthR[i]]),s,r);
    
    
    loop.setAttribute('stroke','#000');
    loop.setAttribute('stroke-width','4.2');
    thickRingsR.forEach(b=>{
      const el=make('ellipse',g);
      
      
      el.setAttribute('cx',dayToX(s,b[0]));
      el.setAttribute('cy',depthToY(r,b[1]));
      el.setAttribute('rx',b[2]/s.dayMax*610);
      el.setAttribute('ry',b[3]/400*(r[1]-r[0]));
      el.setAttribute('fill','none');
      el.setAttribute('stroke','#000');
      el.setAttribute('stroke-width','3.2');
    });
  }
  (p.side==='L'?thickBlobsL:thickBlobsR).forEach(b=>{
    const el=make('ellipse',g);
    
    
    el.setAttribute('cx',dayToX(s,b[0]));
    el.setAttribute('cy',depthToY(r,b[1]));
    el.setAttribute('rx',b[2]/s.dayMax*610);
    el.setAttribute('ry',b[3]/400*(r[1]-r[0]));
    el.setAttribute('fill','#000');
  });

  /* contour labels */
  p.labels.forEach(l=>{
    const x=dayToX(s,l[1]),y=depthToY(r,l[2]);
    const t=addText(g,l[0],x,y+8,22,'middle');
    
    
    t.setAttribute('font-weight','bold');
    t.setAttribute('style','fill:#dcdcdc');
    if(l[3])t.setAttribute('transform','rotate('+l[3]+' '+x+' '+y+')');
  });

  /* axes box */
  const box=make('rect',g);
  
  
  box.setAttribute('x',s.x0);
  box.setAttribute('y',r[0]);
  box.setAttribute('width',s.x1-s.x0);
  box.setAttribute('height',r[1]-r[0]);
  box.setAttribute('fill','none');
  box.setAttribute('stroke','#7c7c7c');
  box.setAttribute('stroke-width','1.5');

  /* x ticks */
  dayTicks.forEach((d,i)=>{
    const x=dayToX(s,d);
    if(i>0){
      const tk=make('line',g);
      
      
      tk.setAttribute('x1',x);
      tk.setAttribute('x2',x);
      tk.setAttribute('y1',r[0]);
      tk.setAttribute('y2',r[0]+5);
      tk.setAttribute('stroke','#7c7c7c');
      tk.setAttribute('stroke-width','1.2');
    }
    const t=addText(g,s.labels[i],x,r[1]+30,21.5,'middle');
    
    
  });
  /* y ticks */
  depthTicks.forEach(d=>{
    const y=depthToY(r,d);
    const t=addText(g,String(d),s.x0-8,y+8,21.5,'end');
    
    
    if(p.side==='R'&&d>0&&d<227){
      const tk=make('line',g);
      
      
      tk.setAttribute('x1',s.x1-5);
      tk.setAttribute('x2',s.x1);
      tk.setAttribute('y1',y);
      tk.setAttribute('y2',y);
      tk.setAttribute('stroke','#7c7c7c');
      tk.setAttribute('stroke-width','1.2');
    }
  });
  /* y title */
  const cy=(r[0]+r[1])/2,tx=p.side==='L'?29:743;
  const yt=addText(g,'Depth [m]',tx,cy,24,'middle');
  
  
  yt.setAttribute('transform','rotate(-90 '+tx+' '+cy+')');
  /* panel letter */
  const let1=addText(g,p.id+']',p.lx,p.ly,42,'start');
  
  
  let1.setAttribute('font-weight','bold');
  let1.setAttribute('style','font-family:"Liberation Serif",serif;fill:#000;stroke:#000;stroke-width:0.9');
});

/* colour bars */
COLORBARS.forEach(b=>{
  const r=ROWS[b.row],table=lut(b);
  const cv=document.createElement('canvas');
  
  
  cv.width=27;
  cv.height=r[1]-r[0];
  cv.style.left='1424px';
  cv.style.top=r[0]+'px';
  fig.appendChild(cv);
  const ctx=cv.getContext('2d');
  const h=r[1]-r[0];
  for(let i=0;i<h;i++){
    const idx=Math.round((1-(i+.5)/h)*1400);
    ctx.fillStyle=table[idx];
    ctx.fillRect(0,i,27,1);
  }
  const g=make('g',svg);
  
  
  const box=make('rect',g);
  
  
  box.setAttribute('x',1424);
  box.setAttribute('y',r[0]);
  box.setAttribute('width',27);
  box.setAttribute('height',h);
  box.setAttribute('fill','none');
  box.setAttribute('stroke','#7c7c7c');
  box.setAttribute('stroke-width','1');
  b.ticks.forEach(v=>{
    const y=r[1]-(v-b.min)/(b.max-b.min)*h;
    const tk=make('line',g);
    
    
    tk.setAttribute('x1',1447);
    tk.setAttribute('x2',1451);
    tk.setAttribute('y1',y);
    tk.setAttribute('y2',y);
    tk.setAttribute('stroke','#555');
    const t=addText(g,String(v),1458,y+8,21.5,'start');
    
    
  });
  const cy=(r[0]+r[1])/2;
  const tt=addText(g,b.title,b.tx,cy,20,'middle');
  
  
  tt.setAttribute('transform','rotate(90 '+b.tx+' '+cy+')');
});

/* year labels */
const y22=addText(svg,'2022',390,2493,24,'middle');


const y23=addText(svg,'2023',1104,2493,24,'middle');


</script>
</body>
</html>
